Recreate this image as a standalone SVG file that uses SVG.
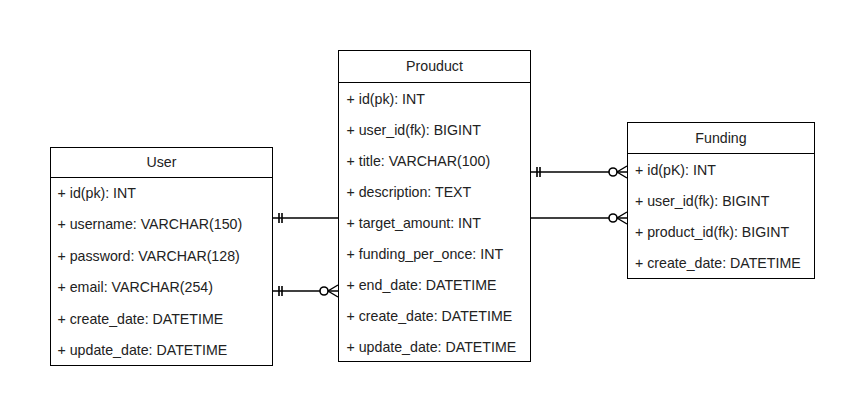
<svg xmlns="http://www.w3.org/2000/svg" width="864" height="419" viewBox="0 0 864 419">
  <style>
    .box { fill: #ffffff; stroke: #000000; stroke-width: 1; }
    .sep { stroke: #000000; stroke-width: 1; }
    .title { font-family: "Liberation Sans", Arial, sans-serif; font-size: 14.2px; fill: #222222; text-anchor: middle; }
    .row { font-family: "Liberation Sans", Arial, sans-serif; font-size: 14.2px; fill: #222222; }
    .conn { stroke: #000000; stroke-width: 1.6; fill: none; }
  </style>
  <defs>
    <marker id="mandOne" markerUnits="userSpaceOnUse" markerWidth="14" markerHeight="20" viewBox="0 0 14 20" refX="0" refY="10" orient="auto" overflow="visible">
      <path d="M6,5 L6,15 M9,5 L9,15" stroke="#000000" stroke-width="1.6" fill="none"/>
    </marker>
    <marker id="zeroMany" markerUnits="userSpaceOnUse" markerWidth="22" markerHeight="20" viewBox="0 0 22 20" refX="20" refY="10" orient="auto" overflow="visible">
      <path d="M20,4 L10,10 L20,16" stroke="#000000" stroke-width="1.4" fill="none"/>
      <circle cx="6" cy="10" r="4" fill="#ffffff" stroke="#000000" stroke-width="1.6"/>
    </marker>
  </defs>

  <g id="connectors">
    <line class="conn" x1="273" y1="218" x2="338" y2="218" marker-start="url(#mandOne)"/>
    <line class="conn" x1="273" y1="291" x2="338" y2="291" marker-start="url(#mandOne)" marker-end="url(#zeroMany)"/>
    <line class="conn" x1="531" y1="172" x2="627" y2="172" marker-start="url(#mandOne)" marker-end="url(#zeroMany)"/>
    <line class="conn" x1="531" y1="218" x2="627" y2="218" marker-end="url(#zeroMany)"/>
  </g>

  <g id="user">
    <rect class="box" x="50.5" y="147.5" width="222" height="218"/>
    <line class="sep" x1="50.5" y1="177.5" x2="272.5" y2="177.5"/>
    <text class="title" x="161.5" y="167">User</text>
    <text class="row" x="57.5" y="198">+ id(pk): INT</text>
    <text class="row" x="57.5" y="229">+ username: VARCHAR(150)</text>
    <text class="row" x="57.5" y="261">+ password: VARCHAR(128)</text>
    <text class="row" x="57.5" y="292">+ email: VARCHAR(254)</text>
    <text class="row" x="57.5" y="324">+ create_date: DATETIME</text>
    <text class="row" x="57.5" y="355">+ update_date: DATETIME</text>
  </g>

  <g id="product">
    <rect class="box" x="338.5" y="50.5" width="192" height="311"/>
    <line class="sep" x1="338.5" y1="82.5" x2="530.5" y2="82.5"/>
    <text class="title" x="434.5" y="71">Prouduct</text>
    <text class="row" x="346.5" y="104">+ id(pk): INT</text>
    <text class="row" x="346.5" y="135">+ user_id(fk): BIGINT</text>
    <text class="row" x="346.5" y="166">+ title: VARCHAR(100)</text>
    <text class="row" x="346.5" y="197">+ description: TEXT</text>
    <text class="row" x="346.5" y="228">+ target_amount: INT</text>
    <text class="row" x="346.5" y="259">+ funding_per_once: INT</text>
    <text class="row" x="346.5" y="290">+ end_date: DATETIME</text>
    <text class="row" x="346.5" y="321">+ create_date: DATETIME</text>
    <text class="row" x="346.5" y="352">+ update_date: DATETIME</text>
  </g>

  <g id="funding">
    <rect class="box" x="627.5" y="122.5" width="187" height="156"/>
    <line class="sep" x1="627.5" y1="153.5" x2="814.5" y2="153.5"/>
    <text class="title" x="721" y="143">Funding</text>
    <text class="row" x="635" y="175">+ id(pK): INT</text>
    <text class="row" x="635" y="206">+ user_id(fk): BIGINT</text>
    <text class="row" x="635" y="237">+ product_id(fk): BIGINT</text>
    <text class="row" x="635" y="268">+ create_date: DATETIME</text>
  </g>
</svg>
